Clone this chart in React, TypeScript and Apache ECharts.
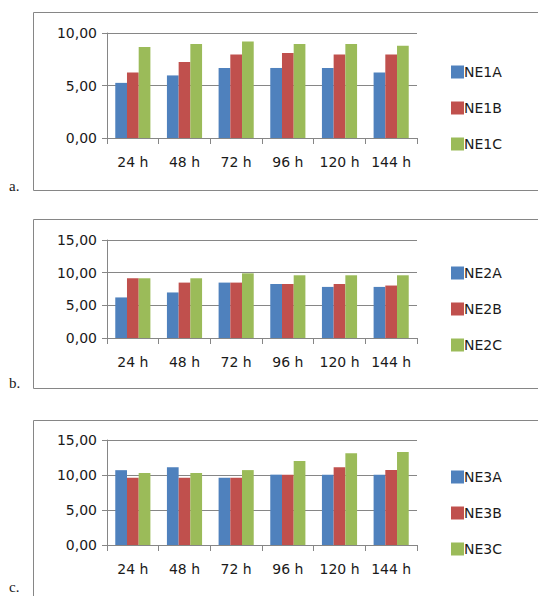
import React, { useEffect, useRef } from "react";
import * as echarts from "echarts";

const categories = ["24 h", "48 h", "72 h", "96 h", "120 h", "144 h"];

const namesA = ["NE1A", "NE1B", "NE1C"];
const ne1a = [5.25, 5.96, 6.67, 6.67, 6.67, 6.25];
const ne1b = [6.25, 7.24, 7.96, 8.1, 7.96, 7.96];
const ne1c = [8.67, 8.95, 9.2, 8.95, 8.95, 8.79];

const namesB = ["NE2A", "NE2B", "NE2C"];
const ne2a = [6.21, 6.97, 8.48, 8.27, 7.82, 7.82];
const ne2b = [9.14, 8.48, 8.48, 8.27, 8.27, 8.03];
const ne2c = [9.14, 9.14, 9.9, 9.6, 9.6, 9.6];

const namesC = ["NE3A", "NE3B", "NE3C"];
const ne3a = [10.69, 11.1, 9.6, 10.05, 10.05, 10.05];
const ne3b = [9.6, 9.6, 9.6, 10.05, 11.1, 10.7];
const ne3c = [10.3, 10.3, 10.7, 12.0, 13.1, 13.3];

const yMaxA = 10;
const yMaxB = 15;
const yMaxC = 15;
const yStep = 5;

const colors = ["#4F81BD", "#C0504D", "#9BBB59"];
const FONT = "'DejaVu Sans', 'Noto Sans', sans-serif";
const AXIS_GRAY = "#868686";
const TEXT = "#1a1a1a";

export default function App() {
  const ref = useRef<HTMLDivElement>(null);
  useEffect(() => {
    if (!ref.current) return;
    const chart = echarts.init(ref.current, undefined, { renderer: "svg" });

    const grids = [
      { left: 107, top: 33, width: 310, height: 105 },
      { left: 107, top: 240, width: 310, height: 98 },
      { left: 107, top: 440, width: 310, height: 105 },
    ];
    const maxes = [yMaxA, yMaxB, yMaxC];
    const groups = [
      { names: namesA, data: [ne1a, ne1b, ne1c] },
      { names: namesB, data: [ne2a, ne2b, ne2c] },
      { names: namesC, data: [ne3a, ne3b, ne3c] },
    ];
    const legendTops = [60, 261, 465];
    const boxes = [
      { y: 12, h: 178 },
      { y: 219, h: 169 },
      { y: 420, h: 180 },
    ];
    const letters = [
      { t: "a.", y: 186 },
      { t: "b.", y: 383 },
      { t: "c.", y: 587 },
    ];

    const xAxis = grids.map((_, i) => ({
      type: "category",
      gridIndex: i,
      data: categories,
      axisLine: { lineStyle: { color: AXIS_GRAY, width: 1 } },
      axisTick: { show: true, interval: 0, length: 6, lineStyle: { color: AXIS_GRAY } },
      axisLabel: { interval: 0, color: TEXT, fontSize: 14, fontFamily: FONT, margin: 17 },
    }));
    const yAxis = grids.map((_, i) => ({
      type: "value",
      gridIndex: i,
      min: 0,
      max: maxes[i],
      interval: yStep,
      axisLine: { show: true, lineStyle: { color: AXIS_GRAY, width: 1 } },
      axisTick: { show: true, length: 5, lineStyle: { color: AXIS_GRAY } },
      splitLine: { show: true, lineStyle: { color: AXIS_GRAY, width: 1 } },
      axisLabel: {
        color: TEXT,
        fontSize: 14,
        fontFamily: FONT,
        margin: 10,
        formatter: (v: number) => v.toFixed(2).replace(".", ","),
      },
    }));

    const series: any[] = [];
    groups.forEach((g, gi) => {
      g.names.forEach((n, si) => {
        series.push({
          type: "bar",
          name: n,
          xAxisIndex: gi,
          yAxisIndex: gi,
          data: g.data[si],
          barGap: "0%",
          barCategoryGap: "32%",
          itemStyle: { color: colors[si] },
        });
      });
    });

    const legend = groups.map((g, gi) => ({
      data: g.names,
      orient: "vertical",
      left: 446,
      top: legendTops[gi],
      itemWidth: 13,
      itemHeight: 13,
      itemGap: 22,
      icon: "rect",
      textStyle: { color: TEXT, fontSize: 14, fontFamily: FONT, padding: [0, 0, 0, -5] },
      selectedMode: false,
    }));

    const graphic: any[] = [];
    boxes.forEach((b) => {
      graphic.push({
        type: "rect",
        shape: { x: 33.5, y: b.y + 0.5, width: 600, height: b.h },
        style: { fill: "none", stroke: AXIS_GRAY, lineWidth: 1 },
        silent: true,
        z: -1,
      });
    });
    letters.forEach((l) => {
      graphic.push({
        type: "text",
        x: 9,
        y: l.y,
        style: {
          text: l.t,
          fill: TEXT,
          font: "15px 'Liberation Serif', 'DejaVu Serif', serif",
          textVerticalAlign: "middle",
        },
      });
    });

    chart.setOption({
      animation: false,
      backgroundColor: "#fff",
      grid: grids.map((g) => ({ ...g, containLabel: false })),
      xAxis,
      yAxis,
      legend,
      series,
      graphic,
    });
    return () => chart.dispose();
  }, []);

  return (
    <div
      ref={ref}
      style={{ position: "fixed", left: 0, top: 0, width: 538, height: 596 }}
    />
  );
}
